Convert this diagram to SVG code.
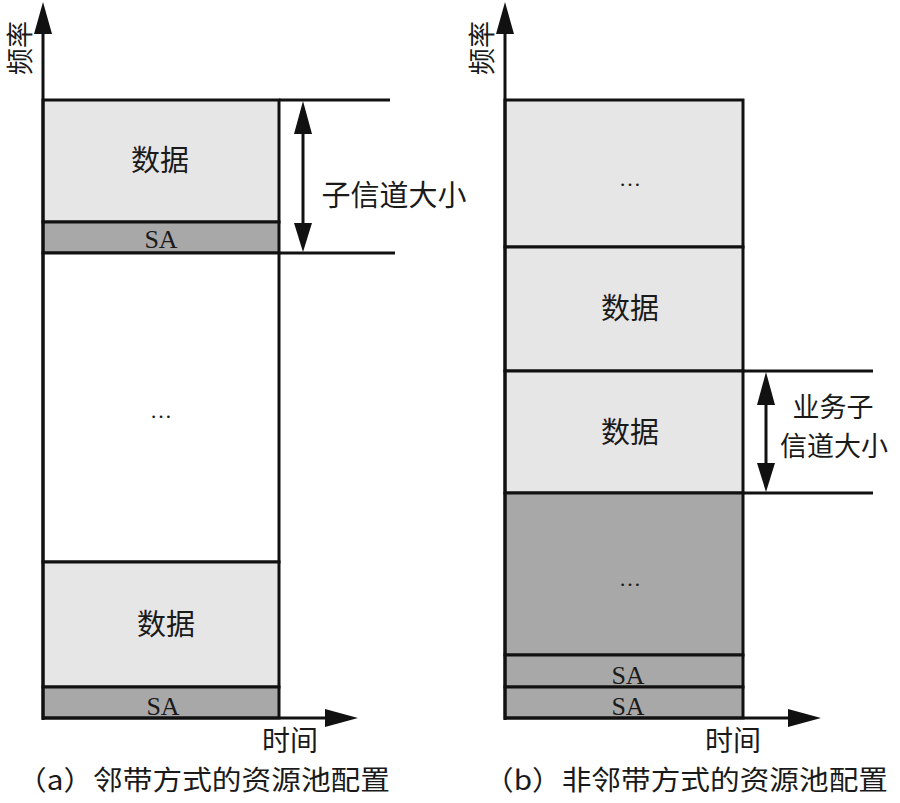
<svg xmlns="http://www.w3.org/2000/svg" width="900" height="803" viewBox="0 0 900 803">
<defs>
<style>
.t{font-family:"Liberation Serif","Noto Sans CJK SC",serif;fill:#1a1a1a;text-anchor:middle}
.cjk{font-family:"Noto Sans CJK SC","Liberation Serif",sans-serif;fill:#1a1a1a;text-anchor:middle}
.ln{stroke:#111;stroke-width:3;fill:none}
.lt{fill:#e6e6e7;stroke:#111;stroke-width:3}
.dk{fill:#a8a8a8;stroke:#111;stroke-width:3}
.wh{fill:#fff;stroke:#111;stroke-width:3}
.ah{fill:#111}
</style>
</defs>
<rect width="900" height="803" fill="#fff"/>

<!-- Panel (a) -->
<g id="a-data1"><rect class="lt" x="43" y="100" width="236" height="122"/><text class="cjk" x="160" y="171" font-size="29">数据</text></g>
<g id="a-sa1"><rect class="dk" x="43" y="222" width="236" height="31"/><text class="t" x="161" y="248" font-size="26">SA</text></g>
<g id="a-gap"><rect class="wh" x="43" y="253" width="236" height="309"/><text class="t" x="161" y="418" font-size="22">…</text></g>
<g id="a-data2"><rect class="lt" x="43" y="562" width="236" height="125"/><text class="cjk" x="166" y="635" font-size="29">数据</text></g>
<g id="a-sa2"><rect class="dk" x="43" y="687" width="236" height="31"/><text class="t" x="163" y="715" font-size="26">SA</text></g>

<!-- Panel (b) -->
<g id="b-more1"><rect class="lt" x="505" y="100" width="238" height="147"/><text class="t" x="630" y="186" font-size="22">…</text></g>
<g id="b-data1"><rect class="lt" x="505" y="247" width="238" height="124"/><text class="cjk" x="630" y="319" font-size="29">数据</text></g>
<g id="b-data2"><rect class="lt" x="505" y="371" width="238" height="122"/><text class="cjk" x="630" y="443" font-size="29">数据</text></g>
<g id="b-more2"><rect class="dk" x="505" y="493" width="238" height="162"/><text class="t" x="630" y="586" font-size="22">…</text></g>
<g id="b-sa1"><rect class="dk" x="505" y="655" width="238" height="32"/><text class="t" x="628" y="684" font-size="26">SA</text></g>
<g id="b-sa2"><rect class="dk" x="505" y="687" width="238" height="31"/><text class="t" x="628" y="715" font-size="26">SA</text></g>

<g id="connectors">
<line class="ln" x1="43" y1="720" x2="43" y2="20"/>
<line class="ln" x1="42" y1="718" x2="340" y2="718"/>
<line class="ln" x1="505" y1="720" x2="505" y2="20"/>
<line class="ln" x1="504" y1="718" x2="800" y2="718"/>
<line class="ln" x1="279" y1="100" x2="390" y2="100"/>
<line class="ln" x1="279" y1="253" x2="395" y2="253"/>
<line class="ln" x1="743" y1="371" x2="873" y2="371"/>
<line class="ln" x1="743" y1="493" x2="873" y2="493"/>
<line class="ln" x1="303" y1="120" x2="303" y2="234"/>
<line class="ln" x1="766" y1="391" x2="766" y2="474"/>
<path class="ah" d="M43,2 L34,34 L52,34 Z"/>
<path class="ah" d="M505,2 L496,34 L514,34 Z"/>
<path class="ah" d="M358,718 L325,709 L325,727 Z"/>
<path class="ah" d="M821,718 L788,709 L788,727 Z"/>
<path class="ah" d="M303,101 L294,134 L312,134 Z"/>
<path class="ah" d="M303,252 L294,223 L312,223 Z"/>
<path class="ah" d="M766,372 L757,405 L775,405 Z"/>
<path class="ah" d="M766,492 L757,463 L775,463 Z"/>
</g>

<!-- labels -->
<text class="cjk" font-size="27" transform="translate(30,48) rotate(-90)">频率</text>
<text class="cjk" font-size="27" transform="translate(492,48) rotate(-90)">频率</text>
<text class="cjk" x="394" y="206" font-size="29">子信道大小</text>
<text class="cjk" x="833" y="417" font-size="27">业务子</text>
<text class="cjk" x="834" y="456" font-size="27">信道大小</text>
<text class="cjk" x="290" y="751" font-size="28">时间</text>
<text class="cjk" x="733" y="751" font-size="28">时间</text>
<text class="cjk" x="17" y="790" font-size="27" style="text-anchor:start" textLength="373" lengthAdjust="spacingAndGlyphs">（a）邻带方式的资源池配置</text>
<text class="cjk" x="484" y="790" font-size="27" style="text-anchor:start" textLength="404" lengthAdjust="spacingAndGlyphs">（b）非邻带方式的资源池配置</text>
</svg>
